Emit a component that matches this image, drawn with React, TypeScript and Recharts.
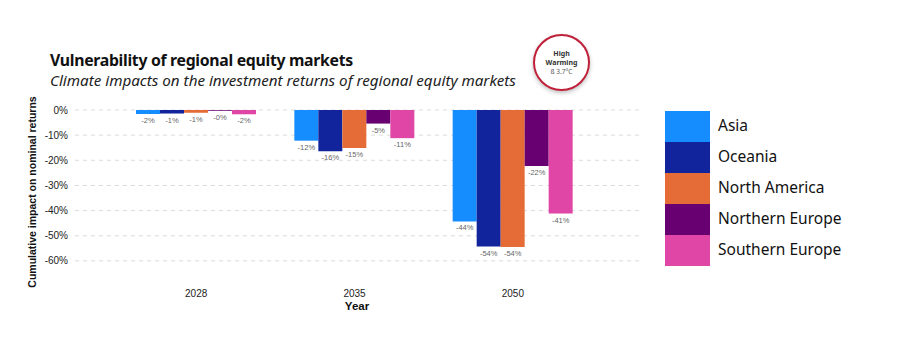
import React from "react";
import { BarChart, Bar, XAxis, YAxis, CartesianGrid, LabelList } from "recharts";

const years = ["2028", "2035", "2050"];
const seriesNames = ["Asia", "Oceania", "North America", "Northern Europe", "Southern Europe"];
const asia = [-1.6, -12.2, -44.3];
const oceania = [-1.4, -16.4, -54.3];
const northAmerica = [-1.1, -15.1, -54.5];
const northernEurope = [-0.3, -5.4, -22.3];
const southernEurope = [-1.7, -11.2, -41.2];
const colors = ["#168dff", "#12249c", "#e56c37", "#680071", "#e046a6"];
const yTicks = [0, -10, -20, -30, -40, -50, -60];

const seriesValues = [asia, oceania, northAmerica, northernEurope, southernEurope];
const data = years.map((y, i) => {
  const row: Record<string, any> = { year: y };
  seriesNames.forEach((n, k) => {
    row[n] = seriesValues[k][i];
  });
  return row;
});

const fmt = (v: number) => (v < 0 ? "-" : "") + Math.abs(Math.round(v)) + "%";

const BarLabel = (props: any) => {
  const { x, y, width, height, value } = props;
  const bottom = Math.max(y, y + height);
  return (
    <text x={x + width / 2} y={bottom + 9} textAnchor="middle" fontSize={7.5} fill="#666" fontFamily="Liberation Sans, Arial, sans-serif">
      {fmt(value)}
    </text>
  );
};

export default function App() {
  return (
    <div style={{ position: "absolute", left: 0, top: 0, width: 907, height: 364, background: "#fff", fontFamily: "'Liberation Sans', Arial, sans-serif" }}>
      <div style={{ position: "absolute", left: 50, top: 51, fontSize: 15.8, lineHeight: "18px", fontWeight: 700, fontFamily: "'Noto Sans', sans-serif", color: "#111", whiteSpace: "nowrap", letterSpacing: -0.3 }}>
        Vulnerability of regional equity markets
      </div>
      <div style={{ position: "absolute", left: 50, top: 72, fontSize: 15.2, lineHeight: "17px", fontStyle: "italic", fontFamily: "'Noto Sans', sans-serif", color: "#222", whiteSpace: "nowrap", letterSpacing: 0 }}>
        Climate impacts on the investment returns of regional equity markets
      </div>
      <div style={{ position: "absolute", left: 533, top: 34, width: 53, height: 53, borderRadius: "50%", border: "2px solid #c0203a", background: "#fff", boxShadow: "0 2px 4px rgba(0,0,0,0.25)", display: "flex", flexDirection: "column", alignItems: "center", justifyContent: "center", fontFamily: "'Noto Sans', sans-serif", lineHeight: "9px" }}>
        <div style={{ fontSize: 7, fontWeight: 700, color: "#333" }}>High</div>
        <div style={{ fontSize: 7, fontWeight: 700, color: "#333" }}>Warming</div>
        <div style={{ fontSize: 6.5, color: "#555" }}>ß 3.7°C</div>
      </div>
      <div style={{ position: "absolute", left: 32, top: 192, transform: "translate(-50%, -50%) rotate(-90deg)", fontSize: 10.5, fontWeight: 700, color: "#111", whiteSpace: "nowrap" }}>
        Cumulative impact on nominal returns
      </div>
      <div style={{ position: "absolute", left: 357, top: 300, transform: "translateX(-50%)", fontSize: 11.5, fontWeight: 700, color: "#111" }}>
        Year
      </div>
      <div style={{ position: "absolute", left: 665, top: 111, width: 220 }}>
        {seriesNames.map((n, i) => (
          <div key={n} style={{ display: "flex", alignItems: "center", height: 31 }}>
            <div style={{ width: 45, height: 31, background: colors[i] }} />
            <span style={{ marginLeft: 8, fontSize: 15.5, color: "#111", fontFamily: "'Noto Sans', sans-serif", marginTop: -4 }}>{n}</span>
          </div>
        ))}
      </div>
      <BarChart
        style={{ position: "absolute", left: 0, top: 0 }}
        width={907}
        height={364}
        data={data}
        margin={{ top: 110, right: 267, left: 15, bottom: 58 }}
        barCategoryGap={19}
        barGap={0}
      >
        <CartesianGrid vertical={false} strokeDasharray="4 4" stroke="#dcdcdc" horizontalValues={yTicks} />
        <XAxis
          dataKey="year"
          axisLine={false}
          tickLine={false}
          tickSize={0}
          tickMargin={14}
          height={30}
          padding={{ left: 42, right: 48 }}
          tick={{ fontSize: 10, fill: "#222" }}
        />
        <YAxis
          width={60}
          domain={[-66, 0]}
          ticks={yTicks}
          axisLine={false}
          tickLine={false}
          tickSize={0}
          tickMargin={7}
          tickFormatter={(v: number) => `${v}%`}
          tick={{ fontSize: 10, fill: "#222" }}
        />
        {seriesNames.map((n, i) => (
          <Bar key={n} dataKey={n} fill={colors[i]} isAnimationActive={false}>
            <LabelList dataKey={n} content={<BarLabel />} />
          </Bar>
        ))}
      </BarChart>
    </div>
  );
}
